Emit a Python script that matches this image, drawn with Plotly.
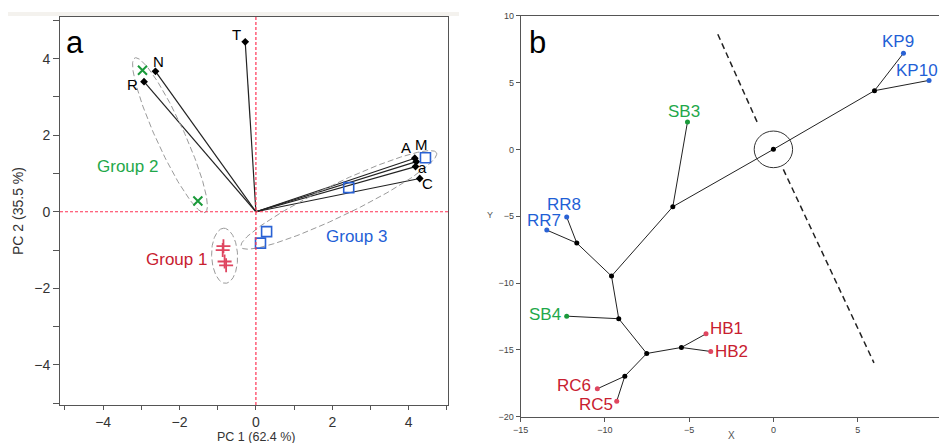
import numpy as np
import plotly.graph_objects as go

# ---------------- Panel a: PCA biplot data ----------------
var_names = ["T", "N", "R", "A", "M", "a", "C"]
var_pc1 = [-0.28, -2.63, -2.93, 4.16, 4.20, 4.18, 4.29]
var_pc2 = [4.44, 3.67, 3.40, 1.40, 1.31, 1.18, 0.87]

g1_pc1 = [-0.85, -0.87, -0.82, -0.78]
g1_pc2 = [-0.90, -1.00, -1.30, -1.40]
g2_pc1 = [-2.97, -1.52]
g2_pc2 = [3.70, 0.28]
g3_pc1 = [4.44, 2.43, 0.28, 0.12]
g3_pc2 = [1.41, 0.63, -0.52, -0.82]

# ellipse parameters: centre x, centre y, semi-major, semi-minor, angle (deg)
ell_params = {
    "Group 1": (-0.82, -1.15, 0.72, 0.34, 92.0),
    "Group 2": (-2.25, 2.00, 2.22, 0.37, -65.5),
    "Group 3": (2.17, 0.31, 2.84, 0.42, 25.7),
}

# ---------------- Panel b: tree data ----------------
node_names = ["O", "K", "KP9", "KP10", "S3n", "SB3", "N3", "RRn", "RR8", "RR7",
              "S4n", "SB4", "N5", "HBn", "HB1", "HB2", "RCn", "RC6", "RC5"]
node_x = [0.0, 6.0, 7.72, 9.24, -5.97, -5.10, -9.61, -11.67, -12.27, -13.45,
          -9.18, -12.27, -7.52, -5.46, -4.00, -3.72, -8.82, -10.45, -9.30]
node_y = [0.0, 4.39, 7.19, 5.16, -4.29, 2.05, -9.48, -7.01, -5.06, -6.04,
          -12.67, -12.48, -15.27, -14.82, -13.80, -15.12, -16.97, -17.91, -18.84]
edges = [("O", "K"), ("K", "KP9"), ("K", "KP10"), ("O", "S3n"), ("S3n", "SB3"),
         ("S3n", "N3"), ("N3", "RRn"), ("RRn", "RR8"), ("RRn", "RR7"),
         ("N3", "S4n"), ("S4n", "SB4"), ("S4n", "N5"), ("N5", "HBn"),
         ("HBn", "HB1"), ("HBn", "HB2"), ("N5", "RCn"), ("RCn", "RC6"), ("RCn", "RC5")]
leaf_blue = ["KP9", "KP10", "RR8", "RR7"]
leaf_green = ["SB3", "SB4"]
leaf_red = ["HB1", "HB2", "RC6", "RC5"]

# ---------------- styles ----------------
FONT = "Liberation Sans, Arial, sans-serif"
BLUE_T, GREEN_T, RED_T = "#1f5fd6", "#1fa84a", "#c8202f"
BLUE_M, GREEN_M, RED_M = "#2a62d4", "#1a9a3a", "#df4660"

fig = go.Figure()

# --- panel a ---
vx, vy = [], []
for x, y in zip(var_pc1, var_pc2):
    vx += [0, x, None]
    vy += [0, y, None]
fig.add_trace(go.Scatter(x=vx, y=vy, mode="lines", line=dict(color="#222", width=1.2),
                         xaxis="x", yaxis="y", hoverinfo="skip"))
fig.add_trace(go.Scatter(x=var_pc1, y=var_pc2, mode="markers",
                         marker=dict(symbol="diamond", size=6, color="black"),
                         xaxis="x", yaxis="y"))

t = np.linspace(0, 2 * np.pi, 200)
for name, (cx, cy, a, b, ang) in ell_params.items():
    th = np.deg2rad(ang)
    ex = cx + a * np.cos(t) * np.cos(th) - b * np.sin(t) * np.sin(th)
    ey = cy + a * np.cos(t) * np.sin(th) + b * np.sin(t) * np.cos(th)
    fig.add_trace(go.Scatter(x=ex, y=ey, mode="lines",
                             line=dict(color="#9a9a9a", width=1, dash="6px,3px"),
                             xaxis="x", yaxis="y", hoverinfo="skip"))

fig.add_trace(go.Scatter(x=g1_pc1, y=g1_pc2, mode="markers",
                         marker=dict(symbol="cross-thin", size=10, line=dict(color=RED_M, width=1.8)),
                         xaxis="x", yaxis="y"))
fig.add_trace(go.Scatter(x=g2_pc1, y=g2_pc2, mode="markers",
                         marker=dict(symbol="x-thin", size=9, line=dict(color=GREEN_M, width=2)),
                         xaxis="x", yaxis="y"))
fig.add_trace(go.Scatter(x=g3_pc1, y=g3_pc2, mode="markers",
                         marker=dict(symbol="square-open", size=10, color=BLUE_M, line=dict(width=1.6)),
                         xaxis="x", yaxis="y"))

# --- panel b ---
idx = {n: i for i, n in enumerate(node_names)}
ex, ey = [], []
for a_, b_ in edges:
    ex += [node_x[idx[a_]], node_x[idx[b_]], None]
    ey += [node_y[idx[a_]], node_y[idx[b_]], None]
fig.add_trace(go.Scatter(x=ex, y=ey, mode="lines", line=dict(color="#222", width=1),
                         xaxis="x2", yaxis="y2", hoverinfo="skip"))
leaves = set(leaf_blue + leaf_green + leaf_red)
inner = [n for n in node_names if n not in leaves]
fig.add_trace(go.Scatter(x=[node_x[idx[n]] for n in inner], y=[node_y[idx[n]] for n in inner],
                         mode="markers", marker=dict(size=5, color="black"),
                         xaxis="x2", yaxis="y2"))
for group, col in ((leaf_blue, BLUE_M), (leaf_green, GREEN_M), (leaf_red, RED_M)):
    fig.add_trace(go.Scatter(x=[node_x[idx[n]] for n in group], y=[node_y[idx[n]] for n in group],
                             mode="markers", marker=dict(size=5, color=col),
                             xaxis="x2", yaxis="y2"))

annotations = []
var_off = {"T": (-9, 7), "N": (3, 10), "R": (-12, -3), "A": (-9, 11),
           "M": (5, 17), "a": (7, -1), "C": (8, -5)}
for n, x, y in zip(var_names, var_pc1, var_pc2):
    dx, dy = var_off[n]
    annotations.append(dict(x=x, y=y, xref="x", yref="y", text=n, showarrow=False,
                            xanchor="center", yanchor="middle",
                            xshift=dx, yshift=dy, font=dict(family=FONT, size=15, color="black")))
group_pos = {"Group 1": (-2.08, -1.24, RED_T), "Group 2": (-3.35, 1.18, GREEN_T),
             "Group 3": (2.64, -0.65, BLUE_T)}
for n, (x, y, c) in group_pos.items():
    annotations.append(dict(x=x, y=y, xref="x", yref="y", text=n, showarrow=False,
                            xanchor="center", yanchor="middle",
                            font=dict(family=FONT, size=17, color=c)))

leaf_off = {"KP9": (-5, 12), "KP10": (-12, 10), "SB3": (-3, 10), "RR8": (-3, 13),
            "RR7": (-3, 10), "SB4": (-22, 2), "HB1": (20, 5), "HB2": (21, 0),
            "RC6": (-23, 3), "RC5": (-21, -3)}
for group, col in ((leaf_blue, BLUE_T), (leaf_green, GREEN_T), (leaf_red, RED_T)):
    for n in group:
        dx, dy = leaf_off[n]
        annotations.append(dict(x=node_x[idx[n]], y=node_y[idx[n]], xref="x2", yref="y2",
                                text=n, showarrow=False, xshift=dx, yshift=dy,
                                xanchor="center", yanchor="middle",
                                font=dict(family=FONT, size=17, color=col)))

W, H = 939, 443
def px(x): return x / W
def py(y): return 1 - y / H

paper_text = [
    ("a", 75, 42, 31, "black", 0),
    ("b", 537, 42, 31, "black", 0),
    ("PC 1 (62.4 %)", 256, 436.5, 12.5, "#333", 0),
    ("PC 2 (35.5 %)", 18, 211, 14, "#333", -90),
    ("Y", 490, 215, 9, "#555", 0),
    ("X", 731, 435, 10, "#555", 0),
]
for txt, x, y, s, c, ang in paper_text:
    annotations.append(dict(x=px(x), y=py(y), xref="paper", yref="paper", text=txt,
                            showarrow=False, xanchor="center", yanchor="middle",
                            textangle=ang, font=dict(family=FONT, size=s, color=c)))

shapes = [
    dict(type="rect", xref="paper", yref="paper", x0=px(8), x1=px(459), y0=py(16), y1=py(12),
         fillcolor="#f4f2ee", line=dict(width=0), layer="below"),
    dict(type="line", xref="x", yref="y domain", x0=0, x1=0, y0=0, y1=1,
         line=dict(color="#ff3355", width=1.2, dash="3px,2px")),
    dict(type="line", xref="x domain", yref="y", x0=0, x1=1, y0=0, y1=0,
         line=dict(color="#ff3355", width=1.2, dash="3px,2px")),
    dict(type="circle", xref="x2", yref="y2", x0=-1.14, x1=1.14, y0=-1.37, y1=1.37,
         line=dict(color="#333", width=1)),
    dict(type="line", xref="x2", yref="y2", x0=-3.30, y0=8.61, x1=-0.95, y1=2.0,
         line=dict(color="#222", width=1.5, dash="6px,4px")),
    dict(type="line", xref="x2", yref="y2", x0=0.59, y0=-1.50, x1=5.97, y1=-15.97,
         line=dict(color="#222", width=1.5, dash="6px,4px")),
]

axis_common = dict(showgrid=False, zeroline=False, showline=True, linecolor="#555",
                   linewidth=1, ticks="outside", tickcolor="#555", automargin=False)
fig.update_layout(
    width=W, height=H, margin=dict(l=0, r=0, t=0, b=0, pad=0, autoexpand=False),
    paper_bgcolor="white", plot_bgcolor="white", showlegend=False,
    font=dict(family=FONT),
    xaxis=dict(domain=[px(60), px(448)], range=[-5.13, 5.03], anchor="y",
               tickvals=[-4, -2, 0, 2, 4], ticklen=4, mirror=True,
               minor=dict(dtick=1, tick0=1, ticks="outside", ticklen=4, tickcolor="#555"),
               tickfont=dict(size=14, color="#333"), **axis_common),
    yaxis=dict(domain=[py(405), py(17)], range=[-5.05, 5.09], anchor="x",
               tickvals=[-4, -2, 0, 2, 4], ticklen=6, mirror=True,
               minor=dict(dtick=1, tick0=1, ticks="outside", ticklen=6, tickcolor="#555"),
               tickfont=dict(size=14, color="#333"), **axis_common),
    xaxis2=dict(domain=[px(520.7), 1.0], range=[-15, 9.83], anchor="y2",
                dtick=5, tick0=0, ticklen=4, mirror=True,
                tickfont=dict(size=9, color="#444"), **axis_common),
    yaxis2=dict(domain=[py(416.7), py(15.7)], range=[-20, 10], anchor="x2",
                dtick=5, tick0=0, ticklen=4,
                tickfont=dict(size=9, color="#444"), **axis_common),
    annotations=annotations, shapes=shapes,
)

fig.write_html("out.html")
